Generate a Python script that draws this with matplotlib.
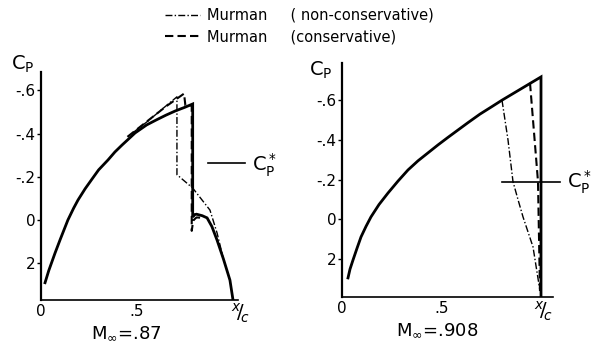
import matplotlib
matplotlib.use('Agg')
import matplotlib.pyplot as plt

plt.rcParams['font.family'] = ['DejaVu Sans']
plt.rcParams['mathtext.fontset'] = 'dejavusans'

W, H = 591, 345

# M = .87 panel
x87_full = [0.021, 0.04, 0.073, 0.1, 0.14, 0.17, 0.193, 0.23, 0.266, 0.3, 0.349, 0.385, 0.422,
            0.45, 0.49, 0.55, 0.6, 0.65, 0.7, 0.75, 0.79,
            0.79, 0.80, 0.81, 0.84, 0.865, 0.89, 0.917, 0.95, 0.984, 1.0]
cp87_full = [0.29, 0.235, 0.153, 0.09, 0.0, -0.055, -0.093, -0.145, -0.19, -0.232, -0.278, -0.315, -0.347,
             -0.37, -0.403, -0.44, -0.463, -0.485, -0.505, -0.522, -0.537,
             -0.014, -0.025, -0.027, -0.02, -0.01, 0.03, 0.093, 0.18, 0.278, 0.37]
x87_nc = [0.48, 0.56, 0.64, 0.708, 0.708, 0.79, 0.88, 0.917, 0.95]
cp87_nc = [-0.405, -0.46, -0.52, -0.57, -0.21, -0.148, -0.046, 0.06, 0.18]
x87_c = [0.45, 0.55, 0.65, 0.745, 0.752, 0.785, 0.785, 0.79, 0.795, 0.81, 0.85]
cp87_c = [-0.385, -0.455, -0.525, -0.585, -0.53, -0.53, 0.05, 0.02, 0.0, -0.012, -0.01]
cpstar87 = -0.264

# M = .908 panel
x908_full = [0.03, 0.04, 0.055, 0.075, 0.095, 0.12, 0.145, 0.185, 0.23, 0.28, 0.33, 0.38, 0.43,
             0.48, 0.53, 0.58, 0.63, 0.69, 0.75, 0.80, 0.9, 0.995, 0.995]
cp908_full = [0.294, 0.25, 0.204, 0.145, 0.088, 0.035, -0.013, -0.075, -0.133, -0.193, -0.249, -0.295, -0.335,
              -0.375, -0.413, -0.45, -0.487, -0.53, -0.568, -0.60, -0.66, -0.717, 0.39]
x908_nc = [0.80, 0.83, 0.855, 0.88, 0.905, 0.955, 0.99]
cp908_nc = [-0.60, -0.40, -0.19, -0.10, -0.013, 0.138, 0.36]
x908_c = [0.94, 0.98, 0.99]
cp908_c = [-0.687, -0.19, 0.37]
cpstar908 = -0.19

yticks = [-0.6, -0.4, -0.2, 0.0, 0.2]
ylabels = ['-.6', '-.4', '-.2', '0', '2']
xticks = [0.0, 0.5]
xlabels = ['0', '.5']


def fx(px):
    return px / W


def fy(py):
    return 1 - py / H


fig = plt.figure(figsize=(W / 100, H / 100), dpi=100)

# pixel boxes of the two plots: left, right, top, bottom
boxes = [(41, 238, 72, 300), (342, 553, 63, 297)]
lims = [((0, 1.026), (0.37, -0.685)), ((0, 1.055), (0.39, -0.787))]
axes = []
for (l, r, t, b), (xl, yl) in zip(boxes, lims):
    ax = fig.add_axes([fx(l), fy(b), (r - l) / W, (b - t) / H])
    ax.set_xlim(*xl)
    ax.set_ylim(*yl)
    for s in ['top', 'right']:
        ax.spines[s].set_visible(False)
    ax.spines['left'].set_linewidth(1.6)
    ax.spines['bottom'].set_linewidth(1.2)
    ax.set_yticks(yticks)
    ax.set_yticklabels(ylabels, fontsize=11)
    ax.set_xticks(xticks)
    ax.set_xticklabels(xlabels, fontsize=11)
    ax.tick_params(axis='y', length=3, width=1, pad=1)
    ax.tick_params(axis='x', length=0, pad=3)
    ax.patch.set_alpha(0)
    axes.append(ax)

ax1, ax2 = axes
k = dict(color='black', solid_joinstyle='miter')

ax1.plot(x87_full, cp87_full, lw=2.0, **k)
ln_nc, = ax1.plot(x87_nc, cp87_nc, lw=1.0, dashes=(5, 1.6, 1, 1.6), **k)
ln_c, = ax1.plot(x87_c, cp87_c, lw=1.5, dashes=(4, 2), **k)
ax1.plot([0.87, 1.06], [cpstar87, cpstar87], lw=1.2, color='black', clip_on=False)

ax2.plot(x908_full, cp908_full, lw=2.0, **k)
ax2.plot(x908_nc, cp908_nc, lw=1.0, dashes=(5, 1.6, 1, 1.6), **k)
ax2.plot(x908_c, cp908_c, lw=1.5, dashes=(4, 2), **k)
ax2.plot([0.80, 1.09], [cpstar908, cpstar908], lw=1.2, color='black', clip_on=False)

# axis titles and labels
fig.text(fx(23), fy(64), r'$\mathrm{C_P}$', fontsize=14, ha='center', va='center')
fig.text(fx(321), fy(70), r'$\mathrm{C_P}$', fontsize=14, ha='center', va='center')
fig.text(fx(252), fy(165), r'$\mathrm{C_P^*}$', fontsize=14, ha='left', va='center')
fig.text(fx(567), fy(182), r'$\mathrm{C_P^*}$', fontsize=14, ha='left', va='center')
fig.text(fx(240), fy(313), r'$^{x}\!/\!_{c}$', fontsize=14, ha='center', va='center')
fig.text(fx(543), fy(311), r'$^{x}\!/\!_{c}$', fontsize=14, ha='center', va='center')
fig.text(fx(126), fy(333), r'M$_\infty$=.87', fontsize=13, ha='center', va='center')
fig.text(fx(437), fy(330), r'M$_\infty$=.908', fontsize=13, ha='center', va='center')

fig.legend([ln_nc, ln_c],
           ['Murman     ( non-conservative)', 'Murman     (conservative)'],
           loc='upper left', bbox_to_anchor=(fx(165), fy(8)), frameon=False,
           fontsize=10.5, handlelength=2.4, handletextpad=0.5,
           labelspacing=0.45, borderpad=0, borderaxespad=0)

fig.savefig('out.png', dpi=100)
